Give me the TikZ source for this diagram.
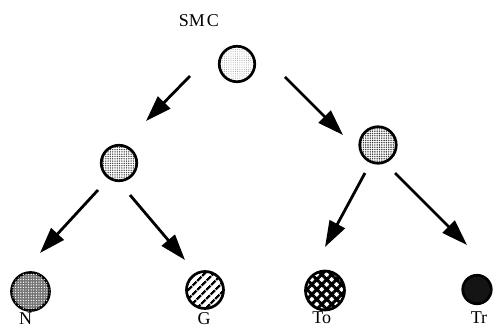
\documentclass[tikz,border=0pt]{standalone}
\usepackage{fontspec}
\setmainfont{Liberation Serif}
\usepackage{tikz}
\usetikzlibrary{arrows.meta,patterns.meta}

\begin{document}
\begin{tikzpicture}[
  x=1pt, y=1pt,
  bola/.style={circle, draw=black, line width=2.7pt, inner sep=0pt},
  flecha/.style={-{Triangle[length=26pt,width=17pt]}, line width=2.8pt},
  rotulo/.style={font=\fontsize{18}{20}\selectfont, inner sep=0pt},
]
  \useasboundingbox (0,0) rectangle (493,329);

  % raiz y nodos intermedios
  \node[bola, minimum size=35.5pt,
        pattern={Dots[distance=2.2pt,radius=0.5pt]}, pattern color=black!40]
    (raiz) at (237,265) {};
  \node[bola, minimum size=35.5pt,
        pattern={Dots[distance=2.3pt,radius=0.75pt]}, pattern color=black!75]
    (izq) at (119,166) {};
  \node[bola, minimum size=36.5pt,
        pattern={Dots[distance=2.3pt,radius=0.8pt]}, pattern color=black!80]
    (der) at (378,184) {};

  % hojas
  \node[bola, minimum size=38pt, fill=black!55,
        postaction={pattern={Dots[distance=2.6pt,radius=0.7pt]}, pattern color=white}]
    (hN) at (30.5,37.5) {};
  \node[bola, minimum size=37pt,
        pattern={Lines[angle=45,distance=6.5pt,line width=2.6pt]}]
    (hG) at (205,39) {};
  \node[bola, minimum size=39pt,
        pattern={Hatch[angle=45,distance=7pt,line width=3pt]}]
    (hTo) at (325,38.5) {};
  \node[bola, minimum size=28.5pt, fill=black!92]
    (hTr) at (477,39.5) {};

  % rotulos
  \node[rotulo] (tSMC) at (199,308) {SM\kern2pt C};
  \node[rotulo] (tN)   at (25.7,10)  {N};
  \node[rotulo] (tG)   at (204,10)   {G};
  \node[rotulo] (tTo)  at (321.7,11) {To};
  \node[rotulo] (tTr)  at (479,11)   {Tr};

  % flechas
  \draw[flecha] ([shift={(-47,-12)}]raiz.center) -- ([shift={(27,42)}]izq.center);
  \draw[flecha] ([shift={(48,-13)}]raiz.center)  -- ([shift={(-35,10)}]der.center);
  \draw[flecha] ([shift={(-21,-27)}]izq.center)  -- ([shift={(9.5,38.5)}]hN.center);
  \draw[flecha] ([shift={(11,-32)}]izq.center)   -- ([shift={(-20,30)}]hG.center);
  \draw[flecha] ([shift={(-13,-28)}]der.center)  -- ([shift={(0,43.5)}]hTo.center);
  \draw[flecha] ([shift={(17,-28)}]der.center)   -- ([shift={(-10,44.5)}]hTr.center);
\end{tikzpicture}
\end{document}
